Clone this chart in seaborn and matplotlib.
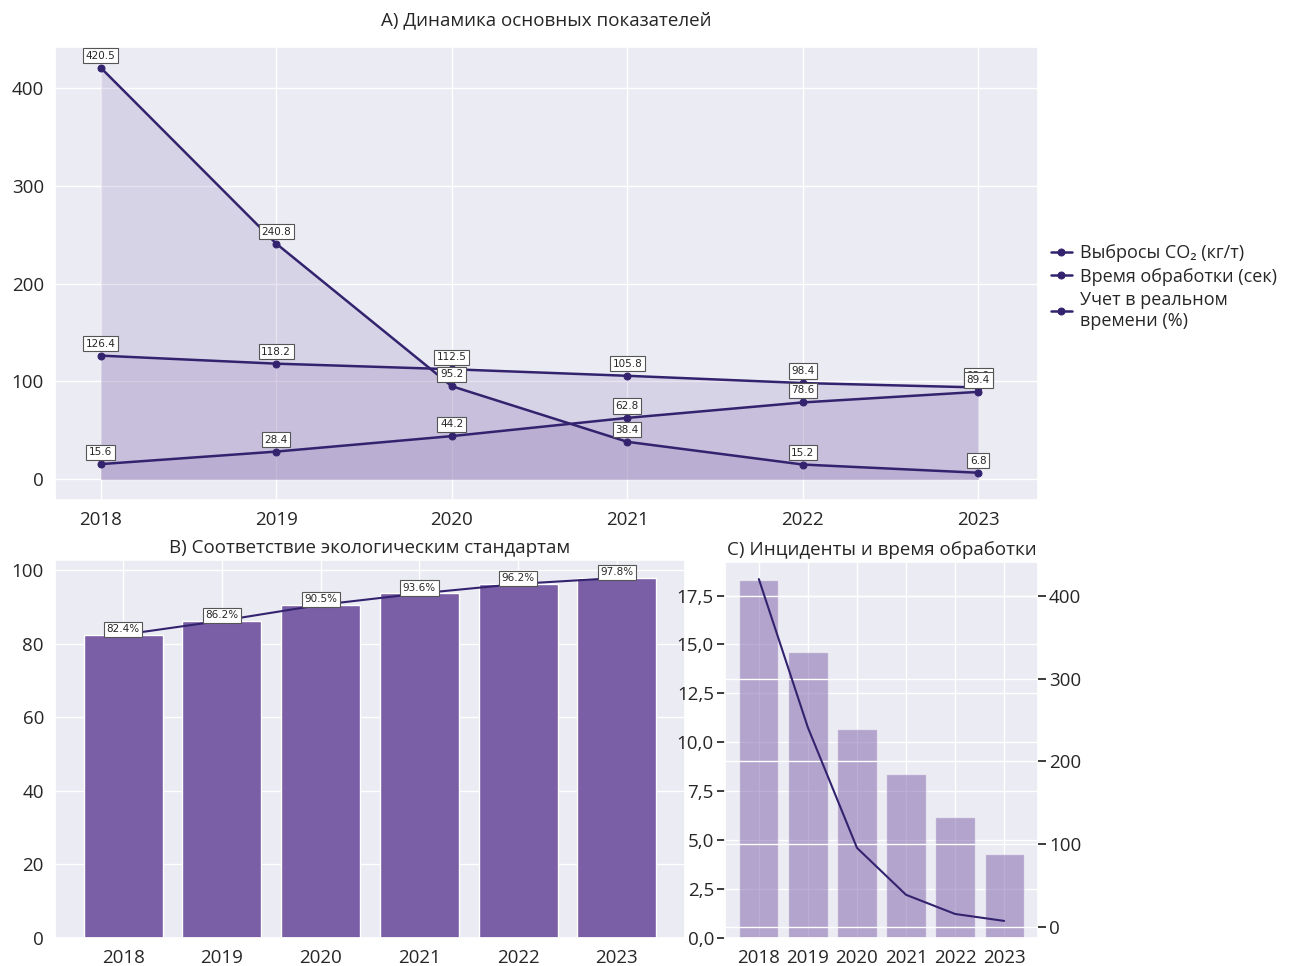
import numpy as np
import pandas as pd
import seaborn as sns
import matplotlib.pyplot as plt
from matplotlib.ticker import FuncFormatter, MultipleLocator

# data
years = [2018, 2019, 2020, 2021, 2022, 2023]
co2 = [420.5, 240.8, 95.2, 38.4, 15.2, 6.8]
proc_time = [126.4, 118.2, 112.5, 105.8, 98.4, 93.9]
realtime = [15.6, 28.4, 44.2, 62.8, 78.6, 89.4]
compliance = [82.4, 86.2, 90.5, 93.6, 96.2, 97.8]
incidents = [18.3, 14.6, 10.7, 8.4, 6.2, 4.3]

series_names = ["Выбросы CO₂ (кг/т)", "Время обработки (сек)", "Учет в реальном\nвремени (%)"]

sns.set_theme(style="darkgrid", rc={"axes.facecolor": "#ebebf3"})
plt.rcParams["font.family"] = ["Open Sans", "DejaVu Sans"]

line_color = "#33236f"
bar_color = "#7a5ea6"
box_style = dict(boxstyle="square,pad=0.25", fc="white", ec="#555555", lw=0.8)

fig = plt.figure(figsize=(13, 9.66), dpi=100)
W, H = 1300, 966
ax_a = fig.add_axes([55 / W, 1 - 500 / H, (1038 - 55) / W, (500 - 47) / H])
ax_b = fig.add_axes([55 / W, 1 - 938 / H, (685 - 55) / W, (938 - 560) / H])
ax_c = fig.add_axes([725 / W, 1 - 938 / H, (1038 - 725) / W, (938 - 562) / H])

# A) main indicators
for vals, name in zip([co2, proc_time, realtime], series_names):
    ax_a.fill_between(years, vals, color=bar_color, alpha=0.17, linewidth=0)
    sns.lineplot(x=years, y=vals, ax=ax_a, color=line_color, marker="o", markersize=5,
                 markeredgecolor=line_color, linewidth=1.8, label=name)
    for x, y in zip(years, vals):
        ax_a.annotate(f"{y:.1f}", (x, y), xytext=(0, 5), textcoords="offset points",
                      ha="center", va="bottom", fontsize=7.5, family="DejaVu Sans",
                      bbox=box_style)

ax_a.set_xlim(2017.74, 2023.34)
ax_a.set_xticks(years)
ax_a.set_title("A) Динамика основных показателей", fontsize=13.5, pad=16)
ax_a.tick_params(labelsize=13.5, pad=2)
ax_a.legend(loc="center left", bbox_to_anchor=(1.0, 0.47), frameon=False, fontsize=13,
            handlelength=1.2, handletextpad=0.4, borderaxespad=0.3, labelspacing=0.3)

# B) compliance
sns.barplot(x=years, y=compliance, native_scale=True, width=0.8, color=bar_color,
            saturation=1, ax=ax_b)
ax_b.plot(years, compliance, color=line_color, linewidth=1.5)
for x, y in zip(years, compliance):
    ax_b.annotate(f"{y:.1f}%", (x, y), xytext=(0, 4), textcoords="offset points",
                  ha="center", va="center", fontsize=7.5, family="DejaVu Sans",
                  bbox=box_style)
ax_b.set_xlim(2017.31, 2023.69)
ax_b.set_xticks(years)
ax_b.set_xticklabels([str(y) for y in years])
ax_b.xaxis.grid(True)
ax_b.set_title("B) Соответствие экологическим стандартам", fontsize=13.5, pad=5)
ax_b.tick_params(labelsize=13.5, pad=2)

# C) incidents and time
sns.barplot(x=years, y=incidents, native_scale=True, width=0.8, color=bar_color,
            saturation=1, alpha=0.5, ax=ax_c)
ax_c.set_xlim(2017.31, 2023.69)
ax_c.set_xticks(years)
ax_c.set_xticklabels([str(y) for y in years])
ax_c.xaxis.grid(True)
ax_c.yaxis.set_major_locator(MultipleLocator(2.5))
ax_c.yaxis.set_major_formatter(FuncFormatter(lambda v, p: f"{v:.1f}".replace(".", ",")))
ax_c.set_title("C) Инциденты и время обработки", fontsize=13.5, pad=5)
ax_c.tick_params(labelsize=13.5, pad=2)

ax_c2 = ax_c.twinx()
sns.lineplot(x=years, y=co2, ax=ax_c2, color=line_color, linewidth=1.5)
ax_c2.set_yticks([0, 100, 200, 300, 400])
ax_c2.grid(True, color="white")
ax_c2.tick_params(labelsize=13.5, pad=2)
for s in ax_c2.spines.values():
    s.set_visible(False)

plt.savefig("out.png", dpi=100)
